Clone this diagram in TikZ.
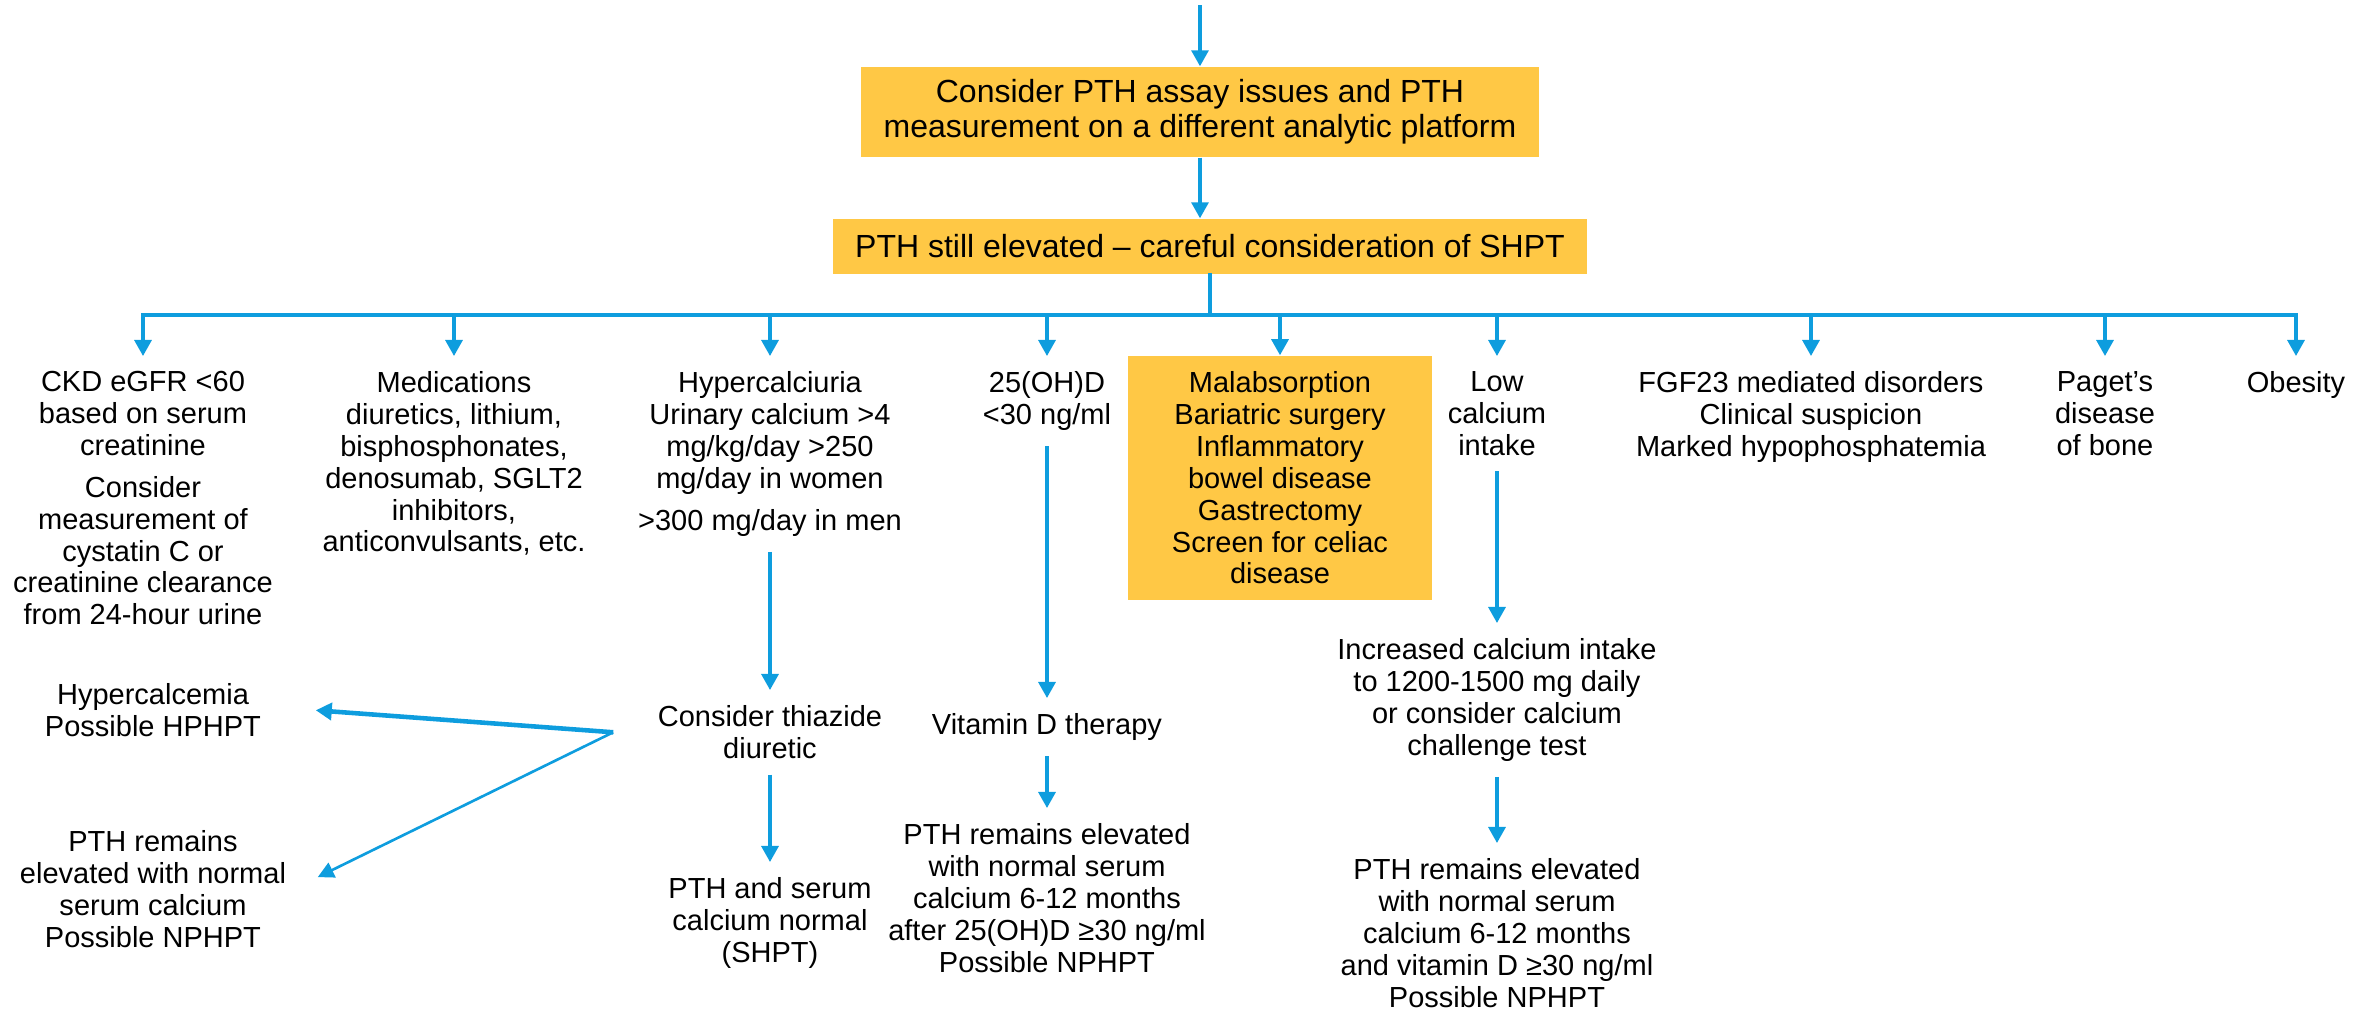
\documentclass[tikz,border=0pt]{standalone}
\usepackage{fontspec}
\setmainfont{Liberation Sans}
\usetikzlibrary{arrows.meta}

\definecolor{flowblue}{RGB}{14,157,222}
\definecolor{boxgold}{RGB}{255,200,69}

\begin{document}
\begin{tikzpicture}[
    x=0.01cm, y=-0.01cm,
    % Define Styles
    goldbox/.style={
        fill=boxgold,
        inner sep=0pt,
        align=center,
        font=\fontsize{9.1}{9.96}\selectfont
    },
    textnode/.style={
        anchor=north,
        align=center,
        inner xsep=0pt,
        inner ysep=1.5mm,
        font=\fontsize{8.25}{9.05}\selectfont
    },
    flowarrow/.style={
        draw=flowblue,
        line width=0.9pt,
        -{Triangle[length=1.6mm,width=1.7mm]}
    },
    thinarrow/.style={
        draw=flowblue,
        line width=0.75pt,
        -{Triangle[length=1.6mm,width=1.6mm]}
    },
    thickarrow/.style={
        draw=flowblue,
        line width=1.3pt,
        -{Triangle[length=1.6mm,width=1.7mm]}
    },
    busline/.style={
        draw=flowblue,
        line width=1.1pt,
        line cap=rect
    }
    ]

    \useasboundingbox (0,0) rectangle (2371,1009);

    % Define Coordinates
    \coordinate (entry) at (1200,5);   % incoming arrow
    \coordinate (busL) at (143,315);   % left end of bus
    \coordinate (busR) at (2296,315);  % right end of bus

    % Top boxes
    \node[goldbox, minimum width=6.77cm, minimum height=0.9cm] (assay) at (1200,112)
        {Consider PTH assay issues and PTH\\measurement on a different analytic platform};
    \node[goldbox, minimum width=7.54cm, minimum height=0.55cm] (still) at (1210,246.5)
        {PTH still elevated -- careful consideration of SHPT};

    % First row
    \node[textnode] (ckd) at (143,356)
        {CKD eGFR <60\\based on serum\\creatinine\\[1mm]Consider\\measurement of\\cystatin C or\\creatinine clearance\\from 24-hour urine};
    \node[textnode] (meds) at (454,356)
        {Medications\\diuretics, lithium,\\bisphosphonates,\\denosumab, SGLT2\\inhibitors,\\anticonvulsants, etc.};
    \node[textnode] (hcalciuria) at (770,356)
        {Hypercalciuria\\Urinary calcium >4\\mg/kg/day >250\\mg/day in women\\[1mm]>300 mg/day in men};
    \node[textnode] (vitd) at (1047,356)
        {25(OH)D\\<30 ng/ml};
    \node[goldbox, font=\fontsize{8.25}{9.05}\selectfont, minimum width=3.04cm, minimum height=2.44cm] (malab) at (1280,478)
        {Malabsorption\\Bariatric surgery\\Inflammatory\\bowel disease\\Gastrectomy\\Screen for celiac\\disease};
    \node[textnode] (lowca) at (1497,356)
        {Low\\calcium\\intake};
    \node[textnode] (fgf) at (1811,356)
        {FGF23 mediated disorders\\Clinical suspicion\\Marked hypophosphatemia};
    \node[textnode] (paget) at (2105,356)
        {Paget’s\\disease\\of bone};
    \node[textnode] (obes) at (2296,356)
        {Obesity};

    % Second row
    \node[textnode] (thiaz) at (770,690)
        {Consider thiazide\\diuretic};
    \node[textnode] (vitdther) at (1047,698)
        {Vitamin D therapy};
    \node[textnode] (incca) at (1497,623)
        {Increased calcium intake\\to 1200-1500 mg daily\\or consider calcium\\challenge test};

    % Third row
    \node[textnode] (shpt) at (770,862)
        {PTH and serum\\calcium normal\\(SHPT)};
    \node[textnode] (nphptb) at (1047,808)
        {PTH remains elevated\\with normal serum\\calcium 6-12 months\\after 25(OH)D ≥30 ng/ml\\Possible NPHPT};
    \node[textnode] (nphptc) at (1497,843)
        {PTH remains elevated\\with normal serum\\calcium 6-12 months\\and vitamin D ≥30 ng/ml\\Possible NPHPT};

    % Left outcomes
    \node[textnode] (hypercal) at (153,668)
        {Hypercalcemia\\Possible HPHPT};
    \node[textnode] (nphpta) at (153,815)
        {PTH remains\\elevated with normal\\serum calcium\\Possible NPHPT};

    % Draw Edges

    % Top chain
    \draw[flowarrow] (entry) -- (assay);
    \draw[flowarrow] (assay.south) -- (assay.south |- still.north);
    \draw[busline] (still) -- (still.south |- busL);
    \draw[busline] (busL) -- (busR);

    % Bus drops
    \foreach \n in {ckd,meds,hcalciuria,vitd,malab,lowca,fgf,paget,obes}
        \draw[flowarrow] (\n.north |- busL) -- (\n.north);

    % Column chains
    \draw[flowarrow] (hcalciuria) -- (thiaz);
    \draw[flowarrow] (thiaz) -- (shpt);
    \draw[flowarrow] (vitd) -- (vitdther);
    \draw[flowarrow] (vitdther) -- (nphptb);
    \draw[flowarrow] (lowca) -- (incca);
    \draw[flowarrow] (incca) -- (nphptc);

    % Thiazide outcomes
    \coordinate (split) at ([xshift=-4.4mm]thiaz.west);
    \draw[thickarrow] (split) -- ([xshift=5.4mm]hypercal.east);
    \draw[thinarrow] (split) -- ([xshift=3.1mm,yshift=1.2mm]nphpta.east);

\end{tikzpicture}
\end{document}
